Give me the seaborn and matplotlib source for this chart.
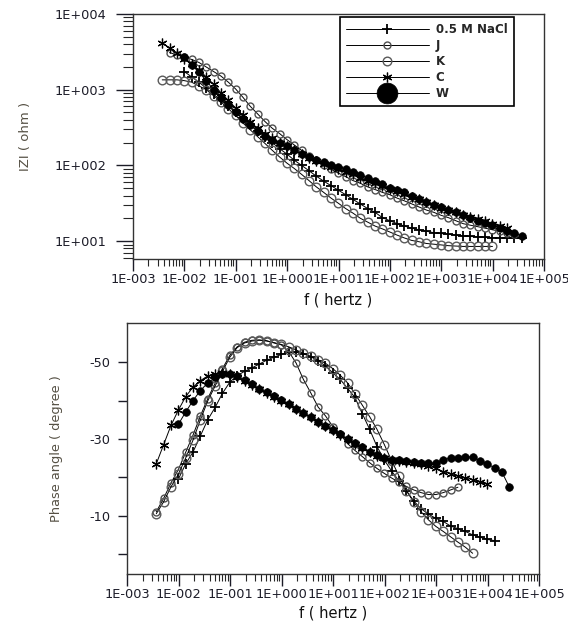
import numpy as np
import pandas as pd
import matplotlib
matplotlib.use('Agg')
import matplotlib.pyplot as plt
import matplotlib.ticker as mticker
import seaborn as sns

# frequency grid (Hz), shared by all series
freq = [0.0037, 0.00514, 0.00714, 0.00993, 0.01377, 0.01914, 0.02661, 0.03698,
        0.0514, 0.0714, 0.0993, 0.1377, 0.1914, 0.2661, 0.3698, 0.514, 0.714,
        0.993, 1.377, 1.914, 2.661, 3.698, 5.14, 7.14, 9.93, 13.77, 19.14, 26.61,
        36.98, 51.4, 71.4, 99.3, 137.7, 191.4, 266.1, 369.8, 514, 714, 993, 1377,
        1914, 2661, 3698, 5140, 7140, 9930, 13770, 19140, 26610, 36980]

# |Z| in ohm
z_nacl = [1738, 1479, 1259, 1047, 871, 724, 603, 501, 417, 347, 288, 240, 200, 166,
          141, 117, 100, 85, 72, 62, 54, 47, 41, 35.5, 30.9, 26.9, 24.0, 20.4, 18.6,
          17.0, 15.8, 14.8, 14.1, 13.5, 12.9, 12.6, 12.3, 12.0, 11.7, 11.5, 11.4,
          11.2, 11.1, 11.0, 11.0, 11.0, 11.0]
z_j = [3090, 2884, 2692, 2512, 2291, 1995, 1738, 1514, 1259, 1023, 794, 603, 479,
       380, 309, 263, 219, 186, 158, 135, 117, 102, 89, 79, 71, 63, 58, 52, 48, 44,
       41, 37, 34, 31, 28.2, 25.7, 24.0, 21.9, 20.4, 18.6, 17.0, 16.2, 15.5, 14.8,
       14.1, 13.5, 12.9, 12.3]
z_k = [1349, 1349, 1349, 1318, 1259, 1122, 1000, 832, 692, 562, 457, 363, 295, 240,
       195, 158, 129, 107, 91, 76, 63, 52, 44, 37, 31.6, 26.9, 23.4, 20.0, 17.8,
       15.8, 14.5, 13.2, 12.0, 11.0, 10.2, 9.8, 9.3, 9.1, 8.9, 8.7, 8.6, 8.5, 8.5,
       8.5, 8.5, 8.5]
z_c = [4169, 3548, 3020, 2570, 2188, 1820, 1479, 1175, 912, 724, 575, 457, 372, 309,
       263, 229, 200, 178, 158, 141, 126, 115, 105, 95, 89, 83, 76, 69, 63, 59, 54,
       49, 46, 42, 38, 35.5, 32.4, 30.2, 27.5, 25.7, 24.0, 22.4, 20.9, 19.5, 18.2,
       17.0, 15.8, 14.8]
z_w = [2692, 2138, 1698, 1318, 1000, 776, 631, 501, 407, 339, 288, 245, 219, 195,
       178, 158, 141, 129, 117, 110, 102, 95, 89, 83, 74, 68, 62, 56, 51, 48, 44, 40,
       36, 33, 30, 28.2, 25.7, 24.0, 21.9, 20.4, 18.6, 17.4, 16.2, 15.1, 13.8, 12.9,
       11.7]

# phase angle in degree
p_nacl = [-19.5, -23.5, -26.6, -30.8, -35.0, -38.2, -41.9, -44.8, -46.5, -47.6,
          -48.5, -49.5, -50.5, -51.3, -52.0, -52.6, -52.6, -52.2, -51.4, -50.4,
          -49.0, -47.2, -45.5, -43.2, -40.8, -36.6, -32.5, -28.0, -24.5, -21.6,
          -19.0, -16.5, -13.8, -11.8, -10.4, -9.3, -8.5, -7.3, -6.6, -5.9, -5.0,
          -4.4, -3.8, -3.5]
p_j = [-11.0, -14.5, -18.5, -22.0, -26.5, -31.0, -36.0, -40.5, -44.5, -48.3, -51.8,
       -54.0, -55.2, -55.7, -55.8, -55.6, -55.0, -54.5, -52.8, -49.8, -45.5, -42.0,
       -38.3, -36.0, -33.2, -31.2, -28.8, -27.0, -25.4, -23.8, -22.3, -21.0, -19.8,
       -18.7, -17.6, -16.7, -16.0, -15.5, -15.5, -16.0, -16.7, -17.4]
p_k = [-10.5, -13.6, -17.5, -20.8, -25.0, -29.7, -35.0, -39.9, -43.8, -47.6, -51.3,
       -53.8, -55.0, -55.5, -55.7, -55.5, -55.1, -54.6, -54.0, -53.2, -52.3, -51.5,
       -50.6, -49.7, -48.3, -46.6, -44.6, -41.8, -38.8, -35.8, -32.5, -28.5, -24.3,
       -20.3, -16.5, -13.5, -11.0, -8.9, -7.2, -5.9, -4.5, -3.1, -1.8, -0.2]
p_c = [-23.5, -28.5, -33.5, -37.5, -41.0, -43.5, -45.2, -46.4, -46.9, -47.1, -46.9,
       -46.0, -45.0, -44.0, -43.0, -42.0, -41.0, -40.0, -39.0, -37.8, -36.7, -35.6,
       -34.4, -33.3, -32.2, -31.0, -29.9, -28.8, -27.7, -26.6, -25.6, -24.9, -24.5,
       -24.3, -24.0, -23.7, -23.4, -23.0, -22.3, -21.5, -20.9, -20.3, -19.8, -19.4,
       -18.9, -18.2]
p_w = [-33.8, -37.0, -40.0, -42.6, -44.6, -46.0, -46.8, -47.0, -46.4, -45.3, -44.2,
       -43.1, -42.1, -41.1, -40.1, -39.0, -37.9, -36.8, -35.6, -34.5, -33.4, -32.3,
       -31.2, -30.0, -28.9, -27.8, -26.7, -25.7, -25.0, -24.6, -24.4, -24.2, -24.0,
       -23.8, -23.6, -23.8, -24.6, -25.0, -25.1, -25.3, -25.3, -24.3, -23.4, -22.5,
       -21.3, -17.4]

labels = ['0.5 M NaCl', 'J', 'K', 'C', 'W']

# (frequencies, values) per series
bode_z = {
    '0.5 M NaCl': (freq[3:], z_nacl),
    'J': (freq[1:49], z_j),
    'K': (freq[0:46], z_k),
    'C': (freq[0:48], z_c),
    'W': (freq[3:], z_w),
}
bode_p = {
    '0.5 M NaCl': (freq[3:47], p_nacl),
    'J': (freq[0:42], p_j),
    'K': (freq[0:44], p_k),
    'C': (freq[0:46], p_c),
    'W': (freq[3:49], p_w),
}

styles = {
    '0.5 M NaCl': dict(marker='+', ms=7, mew=1.3, mec='black'),
    'J': dict(marker='o', ms=5, mfc='none', mec='#505050', mew=1.0),
    'K': dict(marker='o', ms=6.2, mfc='none', mec='#5a5a5a', mew=1.0),
    'C': dict(marker=(6, 2, 0), ms=7, mec='black', mew=0.9),
    'W': dict(marker='o', ms=5.5, mfc='black', mec='black', mew=0.5),
}

sns.set_theme(style='ticks')
plt.rcParams['font.family'] = ['DejaVu Sans']
plt.rcParams['axes.edgecolor'] = '#333333'
plt.rcParams['axes.linewidth'] = 1.0

fig = plt.figure(figsize=(5.68, 6.25), dpi=100)
ax1 = fig.add_axes([0.2342, 0.5856, 0.7236, 0.392])
ax2 = fig.add_axes([0.2236, 0.0816, 0.7254, 0.4016])

for name in labels:
    f, z = bode_z[name]
    df = pd.DataFrame({'f': f, 'z': z})
    sns.lineplot(data=df, x='f', y='z', ax=ax1, color='black', lw=0.7,
                 label=name, legend=False, **styles[name])
    f, p = bode_p[name]
    df = pd.DataFrame({'f': f, 'p': p})
    sns.lineplot(data=df, x='f', y='p', ax=ax2, color='black', lw=0.7,
                 legend=False, **styles[name])


def sci(v, pos):
    e = int(round(np.log10(v)))
    return f'1E{e:+04d}'


tick_col = '#1c1c28'
for ax in (ax1, ax2):
    ax.set_xscale('log')
    ax.set_xlim(1e-3, 1e5)
    ax.xaxis.set_major_locator(mticker.LogLocator(base=10, numticks=20))
    ax.xaxis.set_minor_locator(mticker.LogLocator(base=10, subs=np.arange(2, 10), numticks=20))
    ax.xaxis.set_major_formatter(mticker.FuncFormatter(sci))
    ax.xaxis.set_minor_formatter(mticker.NullFormatter())
    ax.tick_params(axis='x', which='major', direction='out', length=8.6, width=1.0,
                   pad=1.5, labelsize=9.3, colors=tick_col)
    ax.tick_params(axis='x', which='minor', direction='out', length=5, width=0.8)
    ax.set_xlabel('f ( hertz )', fontsize=10.5, color='#111111')
    ax.grid(False)

ax1.set_yscale('log')
ax1.set_ylim(5.8, 1e4)
ax1.yaxis.set_major_locator(mticker.FixedLocator([10, 100, 1000, 10000]))
ax1.yaxis.set_minor_locator(mticker.LogLocator(base=10, subs=np.arange(2, 10), numticks=20))
ax1.yaxis.set_major_formatter(mticker.FuncFormatter(sci))
ax1.yaxis.set_minor_formatter(mticker.NullFormatter())
ax1.tick_params(axis='y', which='major', direction='out', length=12, width=1.0,
                pad=7, labelsize=9.3, colors=tick_col)
ax1.tick_params(axis='y', which='minor', direction='out', length=7, width=0.8)
ax1.set_ylabel('IZI ( ohm )', fontsize=9.5, color='#555044')
ax1.yaxis.set_label_coords(-0.246, 0.5)
ax1.xaxis.set_label_coords(0.5, -0.135)

ax2.set_ylim(5.2, -60.2)
ax2.yaxis.set_major_locator(mticker.FixedLocator([-50, -40, -30, -20, -10, 0]))
ax2.yaxis.set_major_formatter(mticker.FuncFormatter(
    lambda v, pos: f'{int(v)}' if int(round(v)) in (-50, -30, -10) else ''))
ax2.tick_params(axis='y', which='major', direction='out', length=6.5, width=1.0,
                pad=5.5, labelsize=9.3, colors=tick_col)
ax2.set_ylabel('Phase angle ( degree )', fontsize=9.3, color='#555044')
ax2.yaxis.set_label_coords(-0.155, 0.5)
ax2.xaxis.set_label_coords(0.5, -0.127)

handles, labs = ax1.get_legend_handles_labels()
leg = ax1.legend(handles, labs, loc='upper right', bbox_to_anchor=(0.927, 0.988),
                 borderaxespad=0, frameon=True, fancybox=False, framealpha=1,
                 edgecolor='black', handlelength=7, handletextpad=0.6,
                 labelspacing=0.24, borderpad=0.55,
                 prop={'size': 8.5, 'weight': 'bold'})
leg.get_frame().set_linewidth(1.2)
leg.legend_handles[4].set_markersize(15)

fig.savefig('out.png', dpi=100)
